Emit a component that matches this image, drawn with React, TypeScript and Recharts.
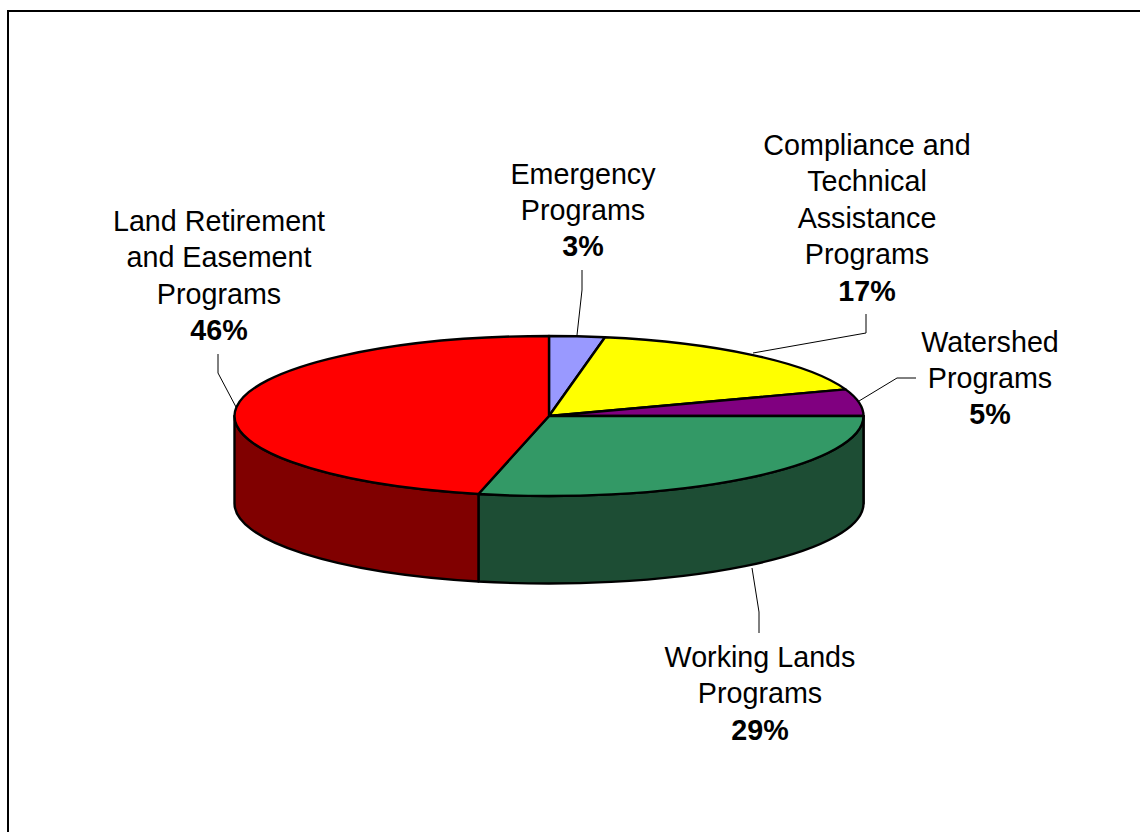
import React from 'react';
import { PieChart, Pie } from 'recharts';

const categories = ['Emergency Programs', 'Compliance and Technical Assistance Programs', 'Watershed Programs', 'Working Lands Programs', 'Land Retirement and Easement Programs'];
const labelLines = [
  ['Emergency', 'Programs'],
  ['Compliance and', 'Technical', 'Assistance', 'Programs'],
  ['Watershed', 'Programs'],
  ['Working Lands', 'Programs'],
  ['Land Retirement', 'and Easement', 'Programs'],
];
const shares = [2.85, 16.75, 5.4, 28.6, 46.4];
const topColors = ['#9999FF', '#FFFF00', '#800080', '#339966', '#FF0000'];
const wallColors = ['#4D4D80', '#808000', '#400040', '#1D4D34', '#800000'];

const tableData = categories.map((name, i) => ({
  name,
  value: shares[i],
  fill: topColors[i],
  wall: wallColors[i],
  lines: labelLines[i],
}));

// layout
const CX = 549;
const CY = 416;
const RX = 314.5;
const RY = 80;
const DEPTH = 87.5;
const FONT = 28.7;
const LINE = 36.4;
const labelCenter = [583, 867, 990, 760, 219];
const firstBaseline = [183.5, 155, 351.5, 667, 231];
const leaders = [
  '582,270 582,290 577,335',
  '866,314 866,333 753,353',
  '916,378 897,378 859,401',
  '759,633 759,612 752,568',
  '218,354 218,373 236,407',
];

const ratio = RY / RX;
const pt = (cx: number, cy: number, rx: number, a: number) => {
  const r = (a * Math.PI) / 180;
  return [cx + rx * Math.cos(r), cy - rx * ratio * Math.sin(r)];
};

const TopSlice = (p: any) => {
  const { cx, cy, outerRadius: rx, startAngle: s, endAngle: e, fill } = p;
  const ry = rx * ratio;
  const [x0, y0] = pt(cx, cy, rx, s);
  const [x1, y1] = pt(cx, cy, rx, e);
  const large = Math.abs(s - e) > 180 ? 1 : 0;
  return (
    <path
      d={`M${cx},${cy}L${x0},${y0}A${rx},${ry} 0 ${large} 1 ${x1},${y1}Z`}
      fill={fill}
      stroke="#000"
      strokeWidth={2.4}
      strokeLinejoin="round"
    />
  );
};

const WallSlice = (p: any) => {
  const { cx, cy, outerRadius: rx, startAngle, endAngle, payload } = p;
  const ry = rx * ratio;
  const s = Math.min(startAngle, 0);
  const e = Math.max(endAngle, -180);
  if (s <= e) return <g />;
  const [x0, y0] = pt(cx, cy, rx, s);
  const [x1, y1] = pt(cx, cy, rx, e);
  return (
    <path
      d={`M${x0},${y0}A${rx},${ry} 0 0 1 ${x1},${y1}L${x1},${y1 + DEPTH}A${rx},${ry} 0 0 0 ${x0},${y0 + DEPTH}Z`}
      fill={payload?.wall ?? p.wall}
      stroke="#000"
      strokeWidth={2.4}
      strokeLinejoin="round"
    />
  );
};

const SliceLabel = (p: any) => {
  const i = p.index;
  const entry = tableData[i];
  const x = labelCenter[i];
  const y = firstBaseline[i];
  return (
    <g>
      <polyline points={leaders[i]} fill="none" stroke="#000" strokeWidth={1} />
      <text textAnchor="middle" fontFamily="'Liberation Sans', Arial, sans-serif" fontSize={FONT} fill="#000">
        {entry.lines.map((l, k) => (
          <tspan key={k} x={x} y={y + k * LINE}>{l}</tspan>
        ))}
        <tspan x={x} y={y + entry.lines.length * LINE} fontWeight="bold">{`${Math.round(entry.value)}%`}</tspan>
      </text>
    </g>
  );
};

export default function App() {
  return (
    <div style={{ position: 'absolute', left: 0, top: 0, width: 1140, height: 832, overflow: 'hidden', background: '#fff' }}>
      <div style={{ position: 'absolute', left: 7, top: 10, width: 2000, height: 2000, border: '2px solid #000', boxSizing: 'border-box' }} />
      <div style={{ position: 'absolute', left: 0, top: 0 }}>
        <PieChart width={1140} height={832} margin={{ top: 0, right: 0, bottom: 0, left: 0 }}>
          <Pie
            data={tableData}
            dataKey="value"
            nameKey="name"
            cx={CX}
            cy={CY}
            innerRadius={0}
            outerRadius={RX}
            startAngle={90}
            endAngle={-270}
            isAnimationActive={false}
            shape={WallSlice}
            label={false}
            labelLine={false}
          />
          <Pie
            data={tableData}
            dataKey="value"
            nameKey="name"
            cx={CX}
            cy={CY}
            innerRadius={0}
            outerRadius={RX}
            startAngle={90}
            endAngle={-270}
            isAnimationActive={false}
            shape={TopSlice}
            label={SliceLabel}
            labelLine={false}
          />
        </PieChart>
      </div>
    </div>
  );
}
